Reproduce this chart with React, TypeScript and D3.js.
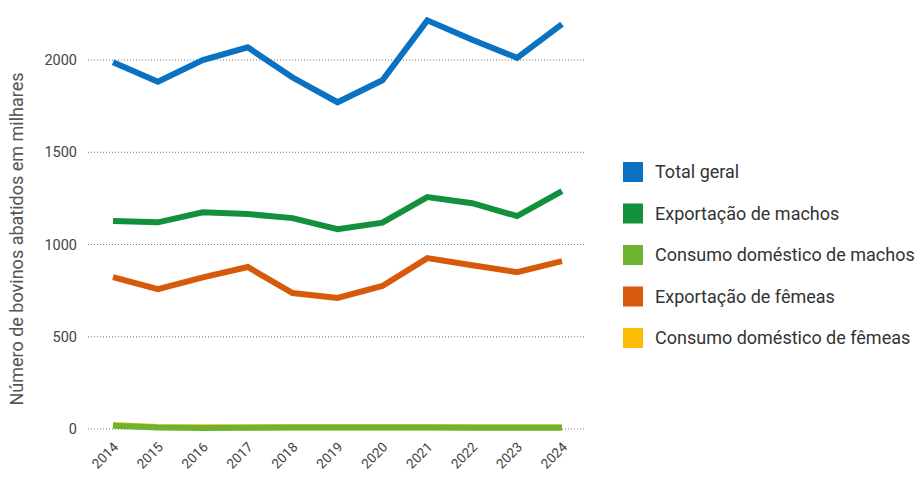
import React from "react";
import * as d3 from "d3";

const years = ["2014","2015","2016","2017","2018","2019","2020","2021","2022","2023","2024"];
const totalGeral = [1988, 1882, 2000, 2069, 1905, 1771, 1890, 2215, 2110, 2012, 2194];
const exportMachos = [1127, 1120, 1175, 1165, 1143, 1083, 1118, 1257, 1224, 1154, 1289];
const consumoMachos = [18, 8, 6, 7, 8, 8, 8, 8, 7, 7, 7];
const exportFemeas = [823, 758, 822, 878, 737, 710, 775, 926, 888, 850, 910];
const consumoFemeas = [22, 11, 9, 10, 10, 10, 10, 10, 10, 10, 10];
const yTicks = [0, 500, 1000, 1500, 2000];

const seriesNames = ["Total geral","Exportação de machos","Consumo doméstico de machos","Exportação de fêmeas","Consumo doméstico de fêmeas"];
const seriesColors = ["#0b72c2","#13903c","#6db32f","#d75a0c","#fbbc05"];
const seriesValues = [totalGeral, exportMachos, consumoMachos, exportFemeas, consumoFemeas];

export default function App() {
  const x = d3.scalePoint<string>().domain(years).range([113, 562]);
  const y = d3.scaleLinear().domain([0, 2000]).range([429, 60]);
  const line = d3.line<number>().x((_, i) => x(years[i]) as number).y(d => y(d));
  const font = "Roboto, 'Noto Sans', sans-serif";
  const order = [4, 3, 2, 1, 0];
  return (
    <svg width={920} height={484} style={{ position: "absolute", left: 0, top: 0, background: "#fff" }} fontFamily={font}>
      {yTicks.map(t => (
        <g key={t}>
          <line x1={88} x2={585} y1={y(t)} y2={y(t)} stroke="#777" strokeWidth={1} strokeDasharray="1,2" />
          <text x={77} y={y(t)} dy="0.35em" textAnchor="end" fontSize={14.5} fill="#444">{t}</text>
        </g>
      ))}
      {years.map(yr => (
        <text key={yr} transform={`translate(${(x(yr) as number) + 6},${448}) rotate(-45)`} textAnchor="end" fontSize={13.5} fill="#444">{yr}</text>
      ))}
      <text transform="translate(23,239) rotate(-90)" textAnchor="middle" fontSize={18} fill="#555">Número de bovinos abatidos em milhares</text>
      {order.map(i => (
        <path key={i} d={line(seriesValues[i]) || ""} fill="none" stroke={seriesColors[i]} strokeWidth={6} strokeLinejoin="miter" />
      ))}
      {seriesNames.map((n, i) => (
        <g key={n} transform={`translate(623,${172 + i * 41.5})`}>
          <rect x={0} y={-10} width={20} height={20} fill={seriesColors[i]} />
          <text x={32} y={0} dy="0.35em" fontSize={18} fill="#333">{n}</text>
        </g>
      ))}
    </svg>
  );
}
